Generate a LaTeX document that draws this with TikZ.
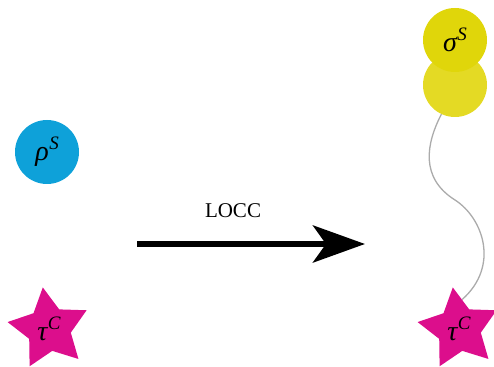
\documentclass[tikz,border=0pt]{standalone}
\usepackage{fontspec}
\setmainfont{Liberation Serif}
\usetikzlibrary{shapes.geometric,arrows.meta}

\definecolor{stateblue}{RGB}{14,161,217}
\definecolor{starmag}{RGB}{220,14,140}
\definecolor{yellowtop}{RGB}{224,214,10}
\definecolor{yellowlow}{RGB}{228,218,36}
\definecolor{wiregray}{RGB}{171,171,171}

% italic symbol with a raised superscript letter
\newcommand\withsup[2]{{\fontsize{28}{28}\selectfont\itshape #1\kern0.02em\raisebox{0.4em}{\fontsize{19}{19}\selectfont #2}}}

\tikzset{
  ball/.style={circle, fill=#1, minimum size=64pt, inner sep=0pt},
  catstar/.style={star, star points=5, star point ratio=1.9, fill=starmag,
    minimum size=84pt, inner sep=0pt, shape border rotate=8.5},
  wire/.style={draw=wiregray, line width=1.3pt},
  locc/.style={line width=6.5pt, -{Stealth[length=52pt,width=37pt,inset=13pt]}},
}

\begin{document}
\begin{tikzpicture}[x=1pt,y=1pt]
  \useasboundingbox (0,0) rectangle (494,366);

  % left side: system state and catalyst
  \node[ball=stateblue] (rho) at (47,214) {\withsup{ρ}{S}};
  \node[catstar] (tauL) at (49,37) {\withsup{τ}{C}};

  % LOCC arrow
  \coordinate (arrS) at (137,122);
  \coordinate (arrE) at (365,122);
  \draw[locc] (arrS) -- (arrE);
  \node[font=\fontsize{21}{21}\selectfont] (lab) at (233,155) {LOCC};

  % right side: correlated output
  \node[ball=yellowlow] (ylow) at (455,281) {};
  \node[ball=yellowtop] (ytop) at (455,326) {\withsup{σ}{S}};
  \node[catstar] (tauR) at (459,37) {\withsup{τ}{C}};

  \draw[wire] (ylow.-115) .. controls (426,222) and (420,188) .. (455,166)
              .. controls (483,148) and (500,100) .. (tauR.84);
\end{tikzpicture}
\end{document}
